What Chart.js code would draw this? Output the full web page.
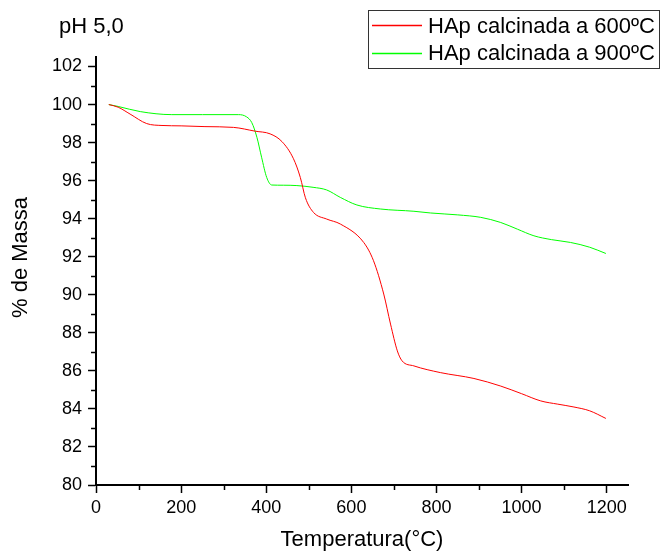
<!DOCTYPE html>
<html><head><meta charset="utf-8">
<script src="https://cdn.jsdelivr.net/npm/chart.js@4.4.1/dist/chart.umd.min.js"></script>
<style>html,body{margin:0;padding:0;background:#fff;}#wrap{width:661px;height:553px;position:relative;}</style>
</head><body><div id="wrap"><canvas id="c" width="661" height="553"></canvas></div>
<script>
const chartTitle = 'pH 5,0';
const xTitle = 'Temperatura(°C)';
const yTitle = '% de Massa';
const seriesLabels = ['HAp calcinada a 600ºC', 'HAp calcinada a 900ºC'];
const seriesColors = ['rgb(255,0,0)', 'rgb(0,255,0)'];

const temp600 = [30, 52, 80, 119, 155, 200, 256, 323, 374, 409, 437, 464, 480, 492, 511, 542, 574, 629, 652, 676, 692, 708, 719, 747, 809, 888, 951, 1000, 1045, 1085, 1123, 1160, 1198];
const mass600 = [100.0, 99.86, 99.5, 99.0, 98.9, 98.88, 98.84, 98.8, 98.6, 98.46, 98.05, 97.15, 96.17, 95.1, 94.33, 93.98, 93.72, 92.75, 91.79, 90.04, 88.46, 87.05, 86.53, 86.26, 85.91, 85.6, 85.2, 84.8, 84.42, 84.25, 84.1, 83.9, 83.5];

const temp900 = [30, 52, 104, 178, 250, 335, 354, 366, 378, 389, 401, 413, 440, 472, 510, 542, 574, 613, 668, 747, 786, 850, 904, 951, 990, 1029, 1070, 1115, 1160, 1198];
const mass900 = [100.0, 99.9, 99.63, 99.47, 99.47, 99.47, 99.35, 99.05, 98.28, 97.23, 96.17, 95.77, 95.76, 95.74, 95.65, 95.51, 95.12, 94.72, 94.51, 94.39, 94.3, 94.2, 94.07, 93.8, 93.45, 93.1, 92.9, 92.75, 92.5, 92.17];

const xMajorTicks = [0, 200, 400, 600, 800, 1000, 1200];
const xMinorTicks = [100, 300, 500, 700, 900, 1100];
const yMajorTicks = [80, 82, 84, 86, 88, 90, 92, 94, 96, 98, 100, 102];
const yMinorTicks = [81, 83, 85, 87, 89, 91, 93, 95, 97, 99, 101];

const FONT = '"Liberation Sans", Arial, sans-serif';

function toPoints(xs, ys) { return xs.map((x, i) => ({x: x, y: ys[i]})); }

const extras = {
  id: 'extras',
  afterDraw(chart) {
    const ctx = chart.ctx;
    const xs = chart.scales.x, ys = chart.scales.y;
    ctx.save();
    // minor ticks
    ctx.strokeStyle = '#000';
    ctx.lineWidth = 1.5;
    ctx.beginPath();
    xMinorTicks.forEach(v => {
      const px = Math.round(xs.getPixelForValue(v)) + 0.5;
      ctx.moveTo(px, xs.top); ctx.lineTo(px, xs.top + 5);
    });
    yMinorTicks.forEach(v => {
      const py = Math.round(ys.getPixelForValue(v)) + 0.5;
      ctx.moveTo(ys.right, py); ctx.lineTo(ys.right - 5, py);
    });
    ctx.stroke();
    // chart title
    ctx.fillStyle = '#000';
    ctx.font = '22px ' + FONT;
    ctx.textAlign = 'left';
    ctx.textBaseline = 'alphabetic';
    ctx.fillText(chartTitle, 59, 33);
    // y title
    ctx.save();
    ctx.translate(27, 257.5);
    ctx.rotate(-Math.PI / 2);
    ctx.textAlign = 'center';
    ctx.fillText(yTitle, 0, 0);
    ctx.restore();
    // legend
    ctx.strokeStyle = '#333';
    ctx.lineWidth = 1;
    ctx.strokeRect(368.5, 10.5, 291, 58);
    chart.data.datasets.forEach((ds, i) => {
      const y = 25 + i * 27.5;
      ctx.fillStyle = seriesColors[i];
      ctx.fillRect(372, Math.round(y) - 0.25, 50, 1.5);
      ctx.fillStyle = '#000';
      ctx.fillText(ds.label, 428, y + 7.5);
    });
    ctx.restore();
  }
};

new Chart(document.getElementById('c'), {
  type: 'line',
  data: {
    datasets: [
      {label: seriesLabels[0], data: toPoints(temp600, mass600), borderColor: seriesColors[0], backgroundColor: seriesColors[0]},
      {label: seriesLabels[1], data: toPoints(temp900, mass900), borderColor: seriesColors[1], backgroundColor: seriesColors[1]}
    ]
  },
  options: {
    responsive: false,
    animation: false,
    devicePixelRatio: 1,
    layout: {padding: {left: 46, right: 33, top: 57, bottom: 0}},
    plugins: {legend: {display: false}, tooltip: {enabled: false}, title: {display: false}},
    elements: {point: {radius: 0}, line: {borderWidth: 1, cubicInterpolationMode: 'monotone'}},
    scales: {
      x: {
        type: 'linear', min: 0, max: 1250,
        afterBuildTicks: s => { s.ticks = xMajorTicks.map(v => ({value: v})); },
        grid: {drawOnChartArea: false, tickLength: 8, tickColor: '#000', tickWidth: 1.5},
        border: {color: '#000', width: 2},
        ticks: {color: '#000', font: {family: FONT, size: 18}, padding: 4, maxRotation: 0, autoSkip: false, callback: v => String(v)},
        title: {display: true, text: xTitle, color: '#000', font: {family: FONT, size: 22}, padding: {top: 4, bottom: 0}}
      },
      y: {
        type: 'linear', min: 80, max: 102.5,
        afterBuildTicks: s => { s.ticks = yMajorTicks.map(v => ({value: v})); },
        grid: {drawOnChartArea: false, tickLength: 8, tickColor: '#000', tickWidth: 1.5},
        border: {color: '#000', width: 2},
        ticks: {color: '#000', font: {family: FONT, size: 18}, padding: 6, autoSkip: false, callback: v => String(v)}
      }
    }
  },
  plugins: [extras]
});
</script>
</body></html>
